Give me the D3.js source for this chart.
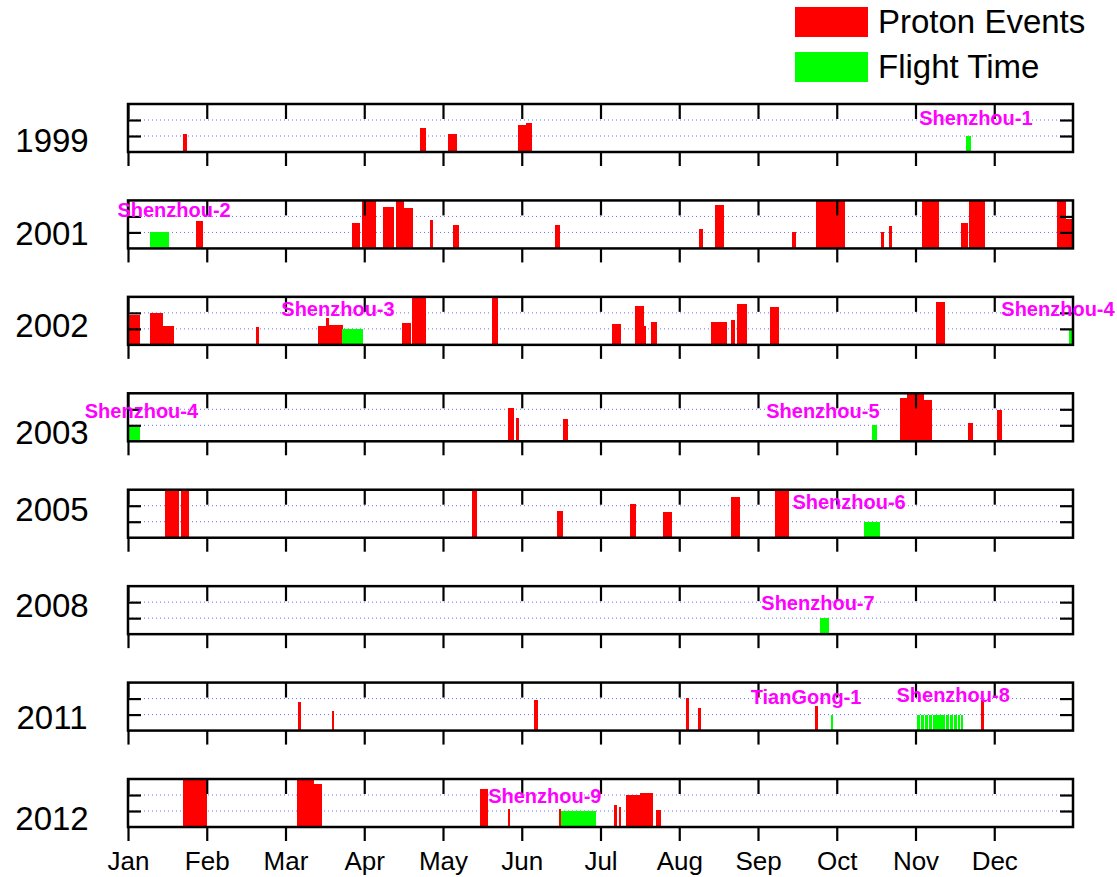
<!DOCTYPE html>
<html>
<head>
<meta charset="utf-8">
<script src="https://cdn.jsdelivr.net/npm/d3@7"></script>
<style>
  body { margin: 0; background: #fff; }
  svg { display: block; font-family: Arial, "Liberation Sans", sans-serif; }
</style>
</head>
<body>
<div id="chart"></div>
<script>
// panels, one per year
const years = [1999, 2001, 2002, 2003, 2005, 2008, 2011, 2012];
const months = ['Jan', 'Feb', 'Mar', 'Apr', 'May', 'Jun', 'Jul', 'Aug', 'Sep', 'Oct', 'Nov', 'Dec'];

// proton events: [start day-of-year, end day-of-year, peak flux (pfu)]
const events1999 = [
    [21.4, 22.9, 138], [112.6, 115.1, 316], [123.6, 127.1, 138],
    [150.6, 153.6, 501], [153.6, 156, 676]
];
const events2001 = [
    [26.3, 28.8, 501], [86.4, 89.6, 363], [90.5, 95.8, 12000], [98.4, 102.7, 3631],
    [103.5, 106.6, 12000], [106.6, 110, 3311], [116.6, 117.9, 631], [125.7, 127.8, 302],
    [164.9, 166.9, 275], [220.7, 222, 170], [226.7, 230.2, 5370], [256.6, 257.9, 110],
    [265.7, 276.9, 12000], [290.8, 292.1, 110], [293.8, 295.1, 240], [306.7, 313.2, 12000],
    [321.7, 324.3, 363], [324.8, 331, 12000], [358.7, 362.2, 12000], [362.2, 365, 724]
];
const events2002 = [
    [0, 4.6, 708], [8.5, 13.6, 955], [13.6, 17.8, 158], [49.4, 50.7, 126],
    [73.5, 77.4, 141], [76.5, 77.8, 501], [77.8, 82.9, 182], [105.8, 109.2, 234],
    [109.6, 115, 12000], [140.7, 142.8, 12000], [186.8, 190.3, 214], [196, 199.3, 2692],
    [199.3, 200, 141], [201.9, 204.2, 288], [225, 231.2, 257], [233, 234.3, 372],
    [235.1, 239, 3467], [248, 251.4, 2344], [312.1, 315.4, 4677]
];
const events2003 = [
    [146.8, 149.1, 1148], [149.9, 150.9, 275], [167.9, 170.1, 234], [298.2, 301, 4898],
    [301, 307.4, 12000], [307.4, 310.6, 3802], [324.3, 326.5, 132], [335.5, 337.6, 912]
];
const events2005 = [
    [14.4, 19.8, 12000], [20.3, 23.7, 12000], [132.9, 134.9, 12000], [165.8, 167.9, 457],
    [193.9, 196.2, 1349], [206.8, 210.1, 398], [232.9, 236.4, 3715], [249.9, 255.4, 12000]
];
const events2008 = [];
const events2011 = [
    [65.7, 66.7, 603], [78.7, 79.7, 158], [157, 158.2, 813], [215.6, 216.6, 1096],
    [220.1, 221.3, 269], [265.2, 266.7, 363], [329.4, 330.6, 813]
];
const events2012 = [
    [21.3, 30.6, 12000], [65.4, 71.9, 12000], [71.9, 74.9, 5012], [136.1, 138.9, 2291],
    [146.6, 147.4, 132], [166.4, 167.2, 126], [187.8, 188.7, 234], [189.5, 190.5, 182],
    [192.2, 197.7, 955], [197.7, 202.8, 1259], [203.8, 205.8, 110]
];
const eventsByYear = {
    1999: events1999, 2001: events2001, 2002: events2002, 2003: events2003,
    2005: events2005, 2008: events2008, 2011: events2011, 2012: events2012
};

// manned flights: year, name, flight periods [start, end], label anchor (day, flux)
const flightYears = [1999, 2001, 2002, 2002, 2003, 2003, 2005, 2008, 2011, 2011, 2012];
const flightNames = ['Shenzhou-1', 'Shenzhou-2', 'Shenzhou-3', 'Shenzhou-4', 'Shenzhou-4', 'Shenzhou-5',
    'Shenzhou-6', 'Shenzhou-7', 'TianGong-1', 'Shenzhou-8', 'Shenzhou-9'];
const flightPeriods = [
    [[323.7, 325.5]],
    [[8.5, 15.8]],
    [[82.7, 90.9]],
    [[363.6, 365]],
    [[0, 4.6]],
    [[287.5, 289.4]],
    [[284.3, 290.5]],
    [[267.3, 270.8]],
    [[271.4, 272.3]],
    [[304.6, 305.9], [306.2, 307.5], [307.8, 309.1], [309.4, 310.7], [311, 312.3], [312.6, 313.9],
     [314.2, 315.5], [315.8, 317.1], [317.4, 318.7], [319, 320.3], [320.6, 321.5], [321.8, 322.6]],
    [[167.2, 180.9]]
];
const flightLevel = 100;
const labelDays = [327.5, 17.8, 81.1, 359.2, 5.2, 268.4, 278.5, 266.5, 261.9, 318.7, 161];
const labelFlux = [490, 870, 646, 646, 275, 275, 646, 316, 490, 646, 316];

const yTicks = [100, 1000];

const width = 1117, height = 877;
const panelTop = 104, panelStep = 96.43, panelH = 48;
const plotLeft = 128, plotRight = 1073;
// baseline of each year label, measured from the panel top
const yearLabelY = [48, 45, 40, 51, 31, 31, 46, 51];

const x = d3.scaleLinear().domain([0, 365]).range([plotLeft, plotRight]);
const y = d3.scaleLog().domain([10, 10000]).range([panelH, 0]).clamp(true);
const monthTicks = d3.range(12).map(i => i * 365 / 12);

const svg = d3.select('#chart').append('svg')
    .attr('width', width)
    .attr('height', height);

// legend
const legend = [
    { label: 'Proton Events', color: '#ff0000' },
    { label: 'Flight Time', color: '#00ff00' }
];
legend.forEach((item, i) => {
    svg.append('rect')
        .attr('x', 795).attr('y', 7 + i * 45)
        .attr('width', 73).attr('height', 30)
        .attr('fill', item.color);
    svg.append('text')
        .attr('x', 878).attr('y', 33 + i * 45)
        .style('font-size', '33px')
        .text(item.label);
});

years.forEach((yr, i) => {
    const g = svg.append('g')
        .attr('transform', `translate(0,${panelTop + i * panelStep})`);

    g.append('clipPath').attr('id', `clip${yr}`)
        .append('rect')
        .attr('x', plotLeft).attr('y', 0)
        .attr('width', plotRight - plotLeft).attr('height', panelH);

    const inner = g.append('g').attr('clip-path', `url(#clip${yr})`);

    inner.selectAll('.grid')
        .data(yTicks)
        .join('line')
        .attr('class', 'grid')
        .attr('x1', plotLeft).attr('x2', plotRight)
        .attr('y1', d => y(d)).attr('y2', d => y(d))
        .attr('stroke', '#6b6bff')
        .attr('stroke-width', 1)
        .attr('stroke-dasharray', '1,3');

    inner.selectAll('.event')
        .data(eventsByYear[yr])
        .join('rect')
        .attr('class', 'event')
        .attr('x', d => x(d[0]))
        .attr('width', d => x(d[1]) - x(d[0]))
        .attr('y', d => y(d[2]))
        .attr('height', d => panelH - y(d[2]))
        .attr('fill', '#ff0000')
        .attr('shape-rendering', 'crispEdges');

    const flights = d3.range(flightYears.length).filter(k => flightYears[k] === yr);
    flights.forEach(k => {
        inner.selectAll(null)
            .data(flightPeriods[k])
            .join('rect')
            .attr('x', d => x(d[0]))
            .attr('width', d => Math.max(2, x(d[1]) - x(d[0])))
            .attr('y', y(flightLevel))
            .attr('height', panelH - y(flightLevel))
            .attr('fill', '#00ff00')
            .attr('shape-rendering', 'crispEdges');
    });

    // month ticks: inward on top, outward on bottom
    g.append('g')
        .call(d3.axisTop(x).tickValues(monthTicks).tickSize(-15).tickFormat(''))
        .call(a => a.select('.domain').remove());
    g.append('g')
        .attr('transform', `translate(0,${panelH})`)
        .call(d3.axisBottom(x).tickValues(monthTicks).tickSize(14)
            .tickFormat(i === years.length - 1 ? ((d, j) => months[j]) : ''))
        .call(a => a.select('.domain').remove());
    g.append('g')
        .attr('transform', `translate(${plotLeft},0)`)
        .call(d3.axisLeft(y).tickValues(yTicks).tickSize(-13).tickFormat(''))
        .call(a => a.select('.domain').remove());
    g.append('g')
        .attr('transform', `translate(${plotRight},0)`)
        .call(d3.axisRight(y).tickValues(yTicks).tickSize(-13).tickFormat(''))
        .call(a => a.select('.domain').remove());

    g.selectAll('.tick line')
        .attr('stroke', '#000')
        .attr('stroke-width', 2.2);
    g.selectAll('.tick text')
        .attr('fill', '#000')
        .attr('y', 25)
        .style('font-size', '26px')
        .style('font-family', 'Arial, "Liberation Sans", sans-serif');

    g.append('rect')
        .attr('x', plotLeft).attr('y', 0)
        .attr('width', plotRight - plotLeft).attr('height', panelH)
        .attr('fill', 'none')
        .attr('stroke', '#000')
        .attr('stroke-width', 2.5);

    g.append('text')
        .attr('x', 52).attr('y', yearLabelY[i])
        .attr('text-anchor', 'middle')
        .style('font-size', '33px')
        .text(yr);

    flights.forEach(k => {
        g.append('text')
            .attr('x', x(labelDays[k]))
            .attr('y', y(labelFlux[k]))
            .attr('text-anchor', 'middle')
            .attr('fill', '#ff00ff')
            .style('font-size', '20px')
            .style('font-weight', 'bold')
            .text(flightNames[k]);
    });
});
</script>
</body>
</html>
